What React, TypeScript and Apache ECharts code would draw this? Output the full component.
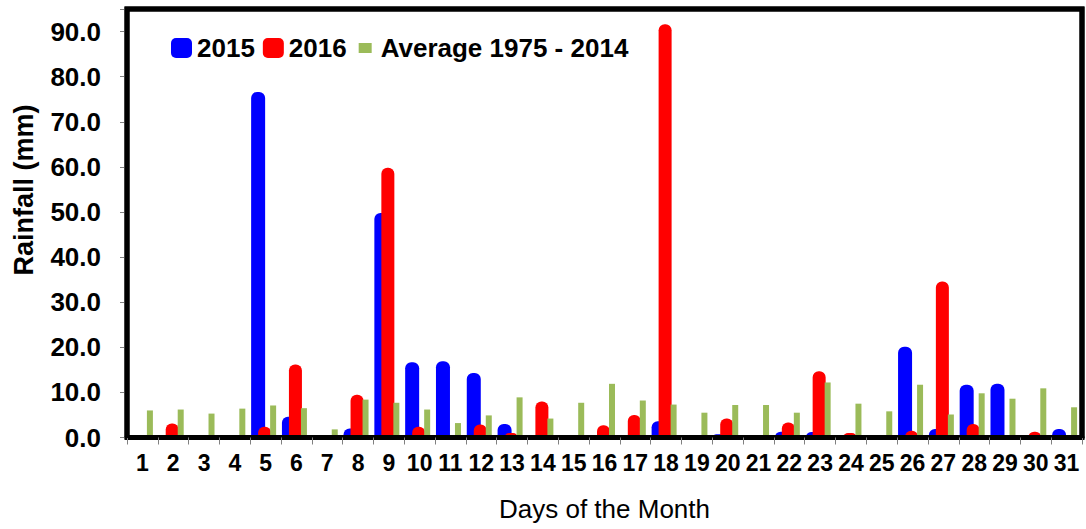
import React, { useEffect, useRef } from "react";
import * as echarts from "echarts";

const days = ["1","2","3","4","5","6","7","8","9","10","11","12","13","14","15","16","17","18","19","20","21","22","23","24","25","26","27","28","29","30","31"];
const rain2015 = [0,0,0,0,76.6,4.6,0,2.0,49.8,16.7,16.9,14.3,3.0,0,0,0,0,3.6,0,0.7,0,1.3,1.2,0,0,20.1,1.9,11.7,11.9,0,1.9];
const rain2016 = [0,3.1,0,0,2.4,16.2,0,9.5,59.8,2.4,0,2.9,1.0,8.0,0,2.7,5.0,91.6,0,4.2,0,3.3,14.7,1.0,0,1.5,34.6,3.0,0,1.3,0];
const rainAvg = [6.0,6.2,5.3,6.4,7.1,6.5,1.8,8.4,7.7,6.2,3.2,4.9,8.9,4.2,7.7,11.9,8.2,7.3,5.5,7.2,7.2,5.5,12.2,7.5,5.8,11.7,5.1,9.8,8.6,10.9,6.7];
const legendNames = ["2015", "2016", "Average 1975 - 2014"];

const FONT = '"Liberation Sans", Arial, sans-serif';

export default function App() {
  const ref = useRef<HTMLDivElement>(null);
  useEffect(() => {
    document.body.style.margin = "0";
    if (!ref.current) return;
    const chart = echarts.init(ref.current, null, { renderer: "svg" });
    chart.setOption({
      animation: false,
      grid: {
        left: 127, right: 4, top: 9, bottom: 91.5,
        show: true, borderColor: "#000", borderWidth: 5, backgroundColor: "transparent",
      },
      legend: {
        data: [
          { name: legendNames[0], icon: "roundRect" },
          { name: legendNames[1], icon: "roundRect" },
          { name: legendNames[2], icon: "path://M0,0M21,20M4,5L17,5L17,15L4,15Z" },
        ],
        left: 166, top: 30, itemWidth: 21, itemHeight: 20, itemGap: 8,
        textStyle: { fontFamily: FONT, fontSize: 26, fontWeight: "bold", color: "#000" },
      },
      xAxis: [
        {
          type: "category", data: days, z: 10,
          axisLine: { lineStyle: { color: "#000", width: 5 } },
          axisTick: { show: true, length: 7, lineStyle: { color: "#808080" } },
          axisLabel: { interval: 0, margin: 14, fontSize: 23, fontWeight: "bold", color: "#000", fontFamily: FONT },
          name: "Days of the Month", nameLocation: "middle", nameGap: 58,
          nameTextStyle: { fontSize: 26, color: "#000", fontFamily: FONT },
        },
      ],
      yAxis: [
        {
          type: "value", min: 0, max: 95, interval: 10, z: 10,
          axisLine: { show: true, lineStyle: { color: "#000", width: 4 } },
          axisTick: { show: true, length: 7, lineStyle: { color: "#808080" } },
          splitLine: { show: false },
          axisLabel: {
            formatter: (v: number) => (v > 90 ? "" : v.toFixed(1)),
            margin: 26, fontSize: 26, fontWeight: "bold", color: "#000", fontFamily: FONT,
          },
        },
      ],
      graphic: [
        {
          type: "polyline", z: 100,
          shape: { points: [[127, 438], [127, 9], [1082, 9], [1082, 438]] },
          style: { stroke: "#000", lineWidth: 5, fill: null },
        },
        {
          type: "text", x: 24, y: 190, rotation: Math.PI / 2,
          style: {
            text: "Rainfall (mm)", fontSize: 27, fontWeight: "bold", fontFamily: FONT,
            fill: "#000", textAlign: "center", textVerticalAlign: "middle",
          },
        },
      ],
      series: [
        { name: legendNames[0], type: "bar", data: rain2015, barWidth: 14, barGap: "-50%",
          itemStyle: { color: "#0000FF", borderRadius: [6, 6, 0, 0] } },
        { name: legendNames[1], type: "bar", data: rain2016, barWidth: 13, barGap: "-50%",
          itemStyle: { color: "#FF0000", borderRadius: [6, 6, 0, 0] } },
        { name: "_gap1", type: "bar", data: [], barWidth: 11, barGap: "-50%" },
        { name: legendNames[2], type: "bar", data: rainAvg, barWidth: 6, barGap: "-50%",
          itemStyle: { color: "#9BBB59" } },
        { name: "_gap2", type: "bar", data: [], barWidth: 7, barGap: "-50%" },
      ],
    });
    return () => chart.dispose();
  }, []);
  return <div ref={ref} style={{ width: 1086, height: 529 }} />;
}
